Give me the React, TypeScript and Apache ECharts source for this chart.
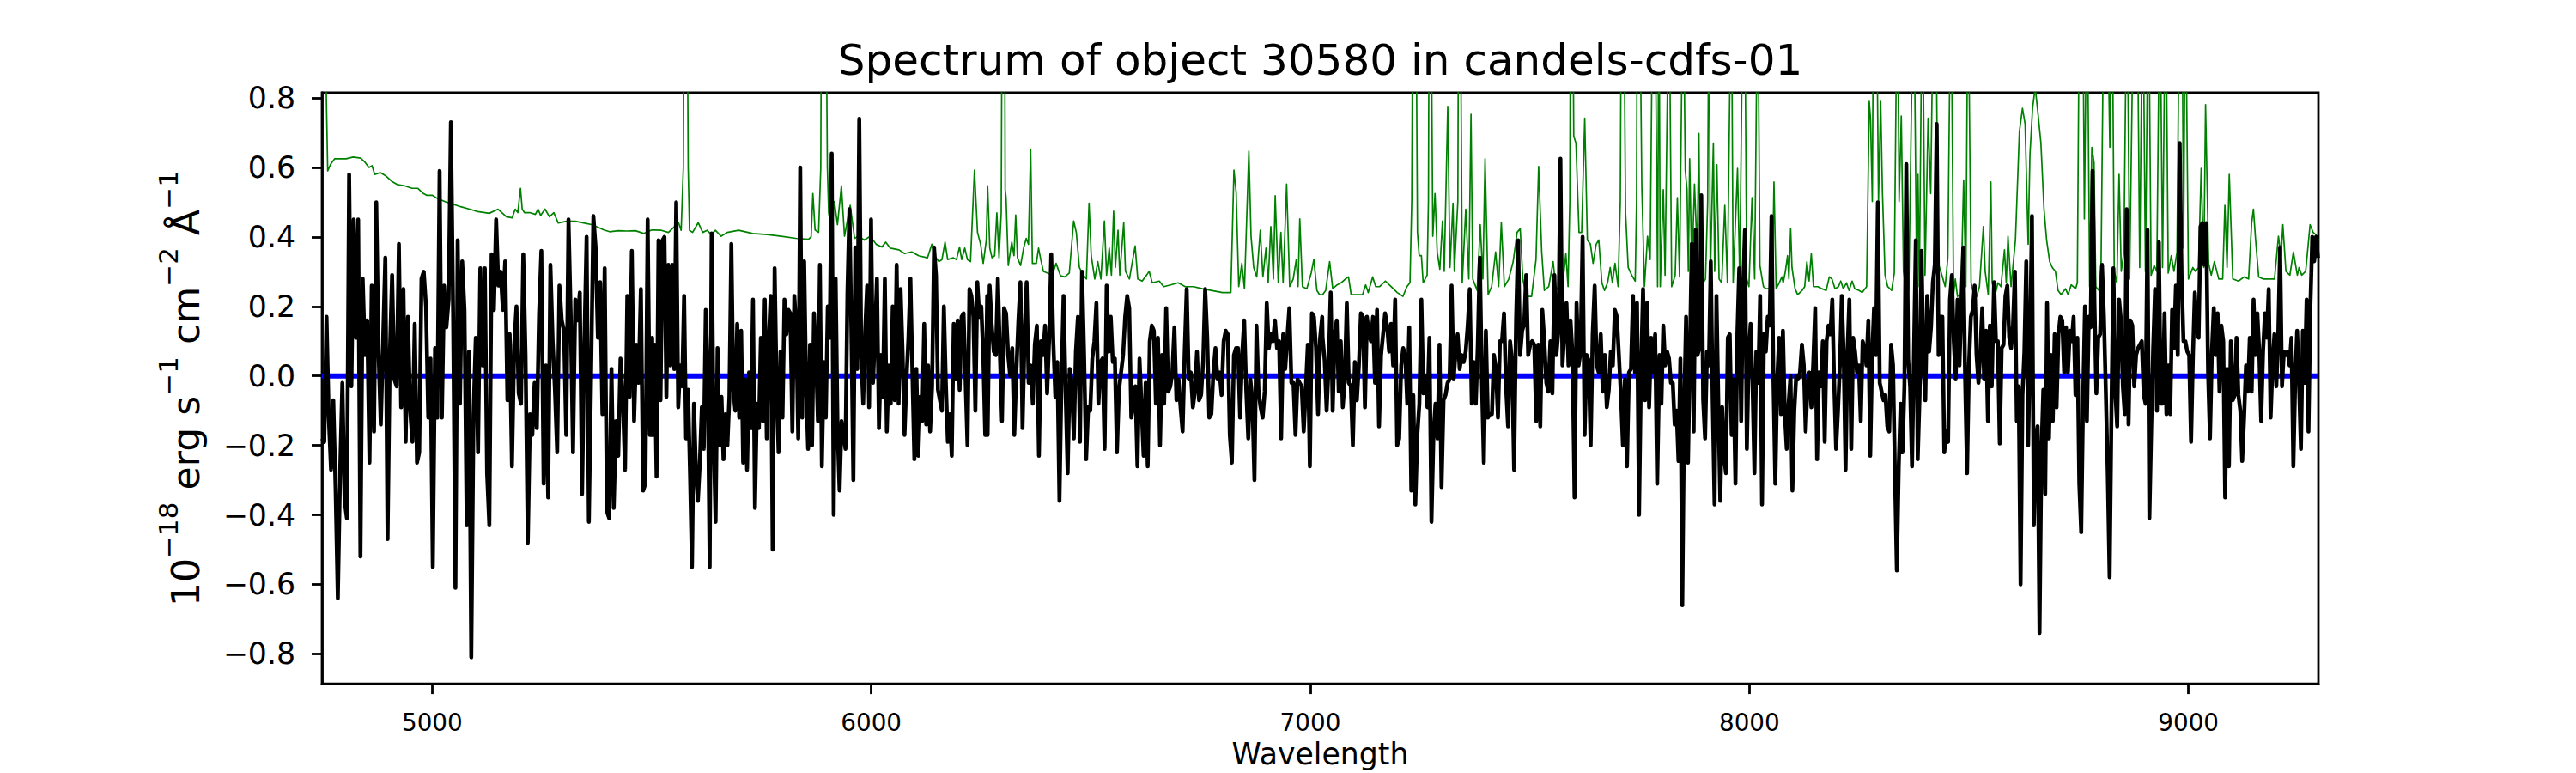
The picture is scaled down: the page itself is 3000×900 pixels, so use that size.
import React, { useEffect, useRef } from "react";
import * as echarts from "echarts";

const TITLE = "Spectrum of object 30580 in candels-cdfs-01";
const X_LABEL = "Wavelength";
const X_MIN = 4749;
const X_MAX = 9296;
const Y_MIN = -0.886;
const Y_MAX = 0.815;
const X_TICKS = [5000, 6000, 7000, 8000, 9000];
const Y_TICKS = [-0.8, -0.6, -0.4, -0.2, 0, 0.2, 0.4, 0.6, 0.8];
const ZERO_LEVEL = 0;

// wavelength span covered by each block of flux samples
const SEGMENT_RANGES = [
  [4749, 5501],
  [5502, 6264],
  [6265, 7027],
  [7028, 7790],
  [7791, 8552],
  [8553, 9295],
];

const FLUX_1 = [-0.18,-0.19,0.17,-0.12,-0.27,-0.07,-0.32,-0.64,-0.28,-0.02,-0.36,-0.41,0.58,-0.03,0.45,0.11,0.45,-0.52,0.28,0.06,0.16,-0.25,0.26,-0.16,0.50,0.07,-0.14,0.10,0.34,-0.47,0.06,0.29,-0.01,-0.03,0.38,-0.09,0.25,-0.19,0.17,-0.10,-0.19,0.15,-0.25,-0.22,0.28,0.30,0.20,-0.12,0.05,-0.55,0.08,-0.12,0.59,-0.12,0.26,0.14,0.22,0.73,0.17,-0.61,0.39,-0.08,0.33,0.19,-0.43,0.07,-0.81,-0.11,0.11,-0.22,0.31,0.03,0.31,-0.28,-0.43,0.35,0.19,0.45,0.26,0.30,0.19,0.33,-0.07,0.12,-0.26,0.09,0.20,-0.05,-0.08,0.35,0.06,-0.48,-0.11,-0.17,-0.02,-0.15,0.18,0.36,-0.31,0.03,-0.35,0.32,0.10,-0.04,-0.22,0.26,0.16,0.13,-0.17,0.45,0.17,-0.22,0.22,0.16,0.24,-0.34,0.09,0.40,-0.42,0.01,0.46,0.37,0.11,0.27,-0.11,0.31,-0.39,-0.41,0.02,-0.38,-0.13,-0.23,0.05,-0.06,-0.27,0.23,-0.06,0.36,-0.13,0.09,-0.02,0.25,-0.33,-0.31,0.45,-0.17,0.11];
const FLUX_2 = [-0.17,0.09,-0.29,0.39,-0.07,0.39,0.40,-0.06,0.32,0.03,0.32,0.02,0.50,-0.09,0.03,-0.03,0.23,-0.18,-0.04,-0.28,-0.55,-0.08,-0.27,-0.36,-0.25,-0.09,-0.21,0.19,0.00,-0.55,0.41,-0.17,-0.42,0.08,-0.20,-0.06,-0.24,-0.11,-0.20,-0.06,0.38,-0.04,-0.10,0.15,-0.12,0.13,-0.25,-0.01,-0.27,0.01,-0.15,0.22,-0.38,-0.08,-0.15,0.11,-0.13,0.22,-0.18,0.10,0.23,-0.50,0.31,-0.03,-0.22,0.07,-0.12,0.22,0.12,0.19,0.18,-0.16,0.23,0.14,-0.18,0.60,-0.12,0.33,-0.03,-0.21,0.09,-0.20,0.18,0.06,-0.13,0.32,-0.26,0.04,-0.12,0.20,0.11,0.64,-0.40,0.28,-0.16,-0.33,-0.13,-0.17,-0.21,0.24,0.48,0.13,-0.30,0.37,0.02,0.74,0.06,-0.08,0.13,0.26,-0.09,0.45,-0.02,0.12,0.28,-0.15,0.06,-0.06,0.28,-0.16,0.03,-0.08,0.20,-0.07,0.32,-0.08,0.25,0.07,-0.17,-0.01,0.11,0.28,0.01,-0.24,0.02,-0.23,-0.06,-0.13,0.15,-0.14,0.03,-0.16,-0.03,0.37,0.29,-0.04,-0.07,-0.10,0.20,-0.02,-0.19,-0.11,-0.23,0.15,-0.01,0.16,-0.04,0.17,0.18,-0.01,-0.20,0.25,0.23,0.17,-0.10,0.27,0.17,0.20,0.06,-0.17,0.23];
const FLUX_3 = [-0.17,0.26,0.145,0.07,0.06,0.28,0.06,-0.13,0.195,0.18,0.06,0.00,0.08,-0.17,0.01,0.16,0.27,-0.15,0.11,0.27,-0.02,0.03,-0.08,0.09,0.145,-0.23,0.10,0.06,0.145,-0.05,0.11,0.35,0.10,-0.06,0.04,-0.36,-0.01,0.23,-0.045,-0.28,0.02,-0.02,-0.18,0.07,0.17,-0.19,0.30,0.06,-0.24,-0.09,-0.10,0.05,0.10,0.21,-0.08,0.04,0.05,-0.21,0.26,0.07,0.17,0.04,0.05,-0.22,-0.04,0.01,0.06,0.17,0.23,0.195,-0.12,-0.08,-0.03,-0.26,0.05,-0.09,-0.23,-0.02,-0.26,0.10,0.145,0.13,-0.08,0.11,-0.20,0.06,-0.08,0.195,-0.045,-0.03,0.01,0.14,-0.07,-0.01,-0.09,-0.16,0.07,0.25,-0.01,0.01,-0.09,-0.045,0.07,-0.07,-0.055,0.04,0.25,0.11,-0.12,-0.11,0.01,0.08,-0.01,0.01,-0.055,0.10,0.13,0.12,-0.17,-0.25,0.06,0.08,0.08,-0.12,0.06,0.16,-0.04,-0.18,-0.01,-0.07,-0.30,0.145,-0.045,-0.09,-0.12,-0.045,0.21,0.08,0.12,0.10,0.16,0.08,0.10,-0.18,0.12,0.02,0.11,0.195,-0.02,-0.02,-0.17,-0.01,-0.02,-0.03,-0.16,-0.04,0.09,-0.26,0.18,0.17,0.08,-0.11,0.11,0.17];
const FLUX_4 = [0.11,0.045,-0.10,0.03,0.24,-0.10,0.12,0.16,-0.045,0.10,-0.09,-0.01,0.21,-0.02,-0.03,-0.20,0.04,-0.07,0.03,0.18,0.17,-0.09,0.17,0.12,0.10,0.17,-0.02,0.19,-0.145,0.06,0.12,0.18,0.145,0.07,0.15,0.03,0.22,-0.20,-0.18,0.03,0.08,0.06,-0.08,0.14,-0.33,-0.055,-0.37,-0.17,-0.08,0.22,-0.05,0.00,-0.09,0.11,-0.42,-0.17,-0.08,-0.18,0.09,-0.32,-0.07,-0.055,-0.02,-0.01,0.26,-0.01,0.07,0.12,0.02,0.06,0.04,0.07,0.145,0.25,-0.08,0.04,-0.08,0.09,0.34,-0.01,-0.25,0.13,-0.12,-0.11,-0.11,0.06,0.02,-0.12,0.10,0.10,0.18,-0.03,-0.145,0.10,0.045,-0.27,0.16,0.39,0.06,0.13,0.15,0.29,0.06,0.09,0.10,0.09,-0.13,0.09,-0.145,0.19,0.10,-0.02,-0.045,0.10,-0.05,0.29,0.06,0.13,0.625,0.03,0.13,0.21,0.03,0.16,0.06,-0.35,0.21,0.03,0.07,0.40,-0.17,0.06,0.045,-0.20,0.12,0.26,0.03,0.01,0.12,-0.045,0.06,-0.09,-0.04,0.07,0.03,0.19,0.17,0.06,-0.055,-0.20,-0.01,-0.26,0.01,0.02,0.23,0.01,0.21,-0.40,0.02,0.25,-0.07,0.21,-0.09,0.11,0.01,0.12,-0.31];
const FLUX_5 = [-0.31,0.06,-0.08,0.145,0.03,0.07,0.05,-0.02,-0.02,-0.14,-0.10,-0.245,0.05,-0.66,-0.09,0.17,-0.25,0.06,0.38,-0.16,0.42,0.06,0.08,0.52,-0.07,-0.18,0.07,0.03,0.33,-0.07,-0.37,0.23,-0.08,-0.36,-0.09,-0.23,-0.28,0.11,0.12,-0.17,-0.01,-0.31,0.12,0.31,-0.13,0.25,0.42,-0.21,0.06,0.15,-0.02,-0.28,0.07,-0.02,0.23,-0.37,0.12,0.07,0.17,0.145,0.46,-0.01,-0.31,-0.01,0.11,-0.11,0.13,-0.11,-0.21,-0.08,0.00,-0.33,-0.10,0.00,-0.01,0.01,0.09,0.03,-0.16,-0.02,0.01,-0.09,0.04,0.195,-0.24,0.01,-0.03,0.10,-0.19,0.10,0.145,0.12,0.22,-0.02,-0.21,-0.10,0.03,0.23,0.06,-0.27,0.07,0.22,-0.21,0.11,0.07,0.01,0.03,-0.13,0.10,0.08,0.03,0.16,-0.23,0.06,0.195,0.06,0.50,-0.02,-0.045,-0.07,-0.055,-0.145,-0.16,0.09,0.03,-0.28,-0.56,-0.26,-0.08,-0.22,-0.03,0.61,0.045,-0.03,-0.26,0.06,0.39,-0.24,-0.055,0.36,0.03,-0.07,0.23,0.07,0.14,0.27,0.32,0.725,0.06,0.17,0.17,-0.22,-0.16,-0.19,0.22,0.29,0.10,-0.01,0.22,0.03,0.21,0.37,-0.01,-0.28,0.03,0.17,0.19,0.26,0.06,-0.02,0.07,0.195,-0.01,0.13,-0.13,0.145,-0.03];
const FLUX_6 = [-0.03,0.27,0.10,0.10,-0.195,0.08,0.09,0.23,0.26,0.11,0.08,0.145,0.30,-0.13,-0.03,-0.60,-0.055,0.07,0.33,-0.20,0.10,0.46,-0.43,-0.18,-0.145,-0.74,-0.22,-0.04,-0.34,0.21,-0.18,0.06,-0.13,0.12,-0.09,0.12,0.17,0.16,0.01,0.14,0.01,0.13,0.10,0.17,-0.055,0.11,-0.31,-0.45,-0.07,0.20,-0.13,0.17,0.14,0.59,0.21,-0.05,0.11,0.12,0.32,0.17,-0.045,-0.28,-0.58,-0.09,0.31,-0.045,-0.145,0.22,0.16,-0.03,-0.11,0.48,-0.14,0.16,0.145,-0.03,0.06,0.08,0.09,0.10,-0.055,-0.08,0.42,-0.41,-0.145,0.08,0.25,-0.10,0.385,-0.08,-0.08,0.18,-0.11,0.03,-0.11,0.19,0.08,0.26,0.06,0.67,0.29,0.10,0.10,0.07,0.06,-0.19,0.06,0.24,0.13,0.11,0.43,0.44,0.32,0.44,0.01,-0.18,0.07,0.195,0.06,0.18,-0.045,0.145,0.10,-0.35,0.02,-0.26,0.10,-0.07,-0.055,0.11,-0.055,-0.10,-0.245,-0.12,0.03,-0.045,0.11,-0.045,0.22,0.06,0.18,0.07,-0.13,0.07,0.18,0.11,0.25,-0.12,0.03,0.12,-0.03,0.11,0.37,-0.03,0.07,0.06,0.07,0.03,0.11,-0.26,-0.01,0.13,-0.02,-0.21,0.13,-0.02,0.22,-0.16,0.20,0.40,0.33,0.40,0.34];
const FLUX_SEGMENTS = [FLUX_1, FLUX_2, FLUX_3, FLUX_4, FLUX_5, FLUX_6];

// green spectrum: [wavelength, value]
const CONTAM = [
[4749,1.5],[4756,1.0],[4762,0.59],[4769,0.61],[4778,0.625],[4804,0.625],[4820,0.63],[4837,0.627],[4847,0.615],[4856,0.60],[4863,0.605],[4869,0.58],[4882,0.585],[4895,0.575],[4908,0.56],[4922,0.55],[4935,0.548],[4954,0.54],[4967,0.54],[4980,0.525],[4987,0.52],[5000,0.52],[5013,0.51],[5033,0.50],[5046,0.495],[5065,0.487],[5085,0.48],[5104,0.473],[5130,0.468],[5150,0.48],[5169,0.458],[5182,0.455],[5189,0.48],[5195,0.47],[5201,0.54],[5205,0.48],[5210,0.47],[5222,0.47],[5235,0.465],[5241,0.48],[5247,0.462],[5257,0.48],[5267,0.458],[5277,0.47],[5287,0.44],[5306,0.445],[5326,0.445],[5345,0.44],[5365,0.435],[5391,0.42],[5404,0.415],[5424,0.418],[5443,0.417],[5463,0.418],[5482,0.41],[5500,0.42],
[5522,0.419],[5538,0.413],[5561,0.441],[5567,0.419],[5572,0.6],[5574,1.3],[5580,1.3],[5583,0.6],[5586,0.419],[5593,0.413],[5606,0.441],[5616,0.413],[5626,0.419],[5636,0.407],[5645,0.419],[5658,0.402],[5672,0.413],[5698,0.419],[5730,0.41],[5763,0.407],[5795,0.402],[5828,0.396],[5857,0.393],[5863,0.40],[5867,0.525],[5872,0.42],[5880,0.413],[5885,0.6],[5887,1.3],[5896,1.3],[5900,0.6],[5903,0.469],[5910,0.413],[5916,0.502],[5923,0.435],[5932,0.547],[5939,0.402],[5952,0.491],[5962,0.396],[5971,0.402],[5984,0.391],[5998,0.402],[6011,0.379],[6024,0.371],[6033,0.385],[6043,0.368],[6063,0.363],[6076,0.352],[6092,0.357],[6108,0.346],[6128,0.34],[6138,0.379],[6144,0.346],[6154,0.329],[6161,0.335],[6168,0.385],[6174,0.335],[6187,0.34],[6194,0.335],[6201,0.371],[6206,0.335],[6213,0.368],[6219,0.335],[6226,0.329],[6235,0.592],[6242,0.413],[6249,0.379],[6255,0.324],[6262,0.391],
[6265,0.547],[6270,0.368],[6275,0.34],[6281,0.346],[6286,0.469],[6291,0.34],[6296,0.469],[6299,1.5],[6303,1.5],[6305,0.536],[6307,0.513],[6312,0.318],[6320,0.385],[6325,0.346],[6329,0.463],[6333,0.34],[6340,0.318],[6347,0.368],[6353,0.396],[6358,0.379],[6363,0.653],[6367,0.324],[6376,0.324],[6381,0.368],[6386,0.335],[6392,0.301],[6402,0.296],[6412,0.29],[6421,0.324],[6431,0.288],[6441,0.285],[6451,0.296],[6461,0.446],[6467,0.413],[6474,0.312],[6483,0.29],[6490,0.279],[6496,0.497],[6501,0.346],[6509,0.279],[6516,0.329],[6523,0.279],[6531,0.446],[6536,0.29],[6542,0.368],[6547,0.29],[6552,0.474],[6556,0.312],[6562,0.419],[6566,0.29],[6575,0.441],[6579,0.301],[6588,0.279],[6594,0.324],[6601,0.374],[6607,0.279],[6617,0.273],[6627,0.29],[6633,0.301],[6640,0.268],[6656,0.273],[6666,0.257],[6682,0.262],[6699,0.268],[6715,0.257],[6734,0.257],[6754,0.251],[6774,0.246],[6800,0.24],[6819,0.24],[6826,0.592],[6831,0.53],[6837,0.257],[6844,0.324],[6850,0.251],[6860,0.647],[6865,0.402],[6871,0.312],[6878,0.285],[6886,0.419],[6892,0.285],[6899,0.368],[6904,0.268],[6910,0.43],[6916,0.279],[6920,0.519],[6927,0.268],[6933,0.413],[6938,0.268],[6946,0.552],[6953,0.257],[6961,0.279],[6968,0.335],[6972,0.257],[6976,0.452],[6982,0.257],[6992,0.251],[7002,0.296],[7008,0.335],[7015,0.246],[7021,0.234],
[7028,0.234],[7035,0.246],[7044,0.329],[7051,0.251],[7061,0.262],[7070,0.268],[7080,0.279],[7087,0.285],[7093,0.234],[7106,0.234],[7119,0.234],[7126,0.262],[7132,0.24],[7142,0.285],[7149,0.257],[7158,0.257],[7171,0.273],[7184,0.257],[7198,0.24],[7211,0.229],[7220,0.257],[7227,0.268],[7231,0.502],[7234,1.3],[7240,1.3],[7244,0.413],[7248,0.346],[7253,0.346],[7257,0.268],[7266,0.29],[7269,0.502],[7271,1.3],[7274,1.3],[7279,0.402],[7284,0.525],[7289,0.357],[7295,0.307],[7301,0.446],[7305,0.301],[7313,0.776],[7318,0.312],[7325,0.497],[7328,0.301],[7336,0.502],[7338,1.3],[7341,1.3],[7346,0.268],[7354,0.48],[7361,0.279],[7366,0.753],[7370,0.279],[7380,0.246],[7387,0.435],[7393,0.279],[7398,0.625],[7405,0.234],[7413,0.257],[7422,0.357],[7429,0.257],[7435,0.441],[7442,0.257],[7452,0.279],[7462,0.329],[7471,0.413],[7478,0.424],[7484,0.279],[7492,0.229],[7504,0.229],[7514,0.335],[7520,0.603],[7527,0.357],[7533,0.246],[7543,0.257],[7553,0.329],[7559,0.257],[7569,0.24],[7576,0.279],[7582,0.352],[7587,0.257],[7591,0.502],[7593,1.3],[7597,1.3],[7600,0.69],[7605,0.67],[7612,0.413],[7618,0.413],[7625,0.742],[7631,0.391],[7638,0.379],[7644,0.324],[7651,0.379],[7657,0.391],[7664,0.268],[7670,0.246],[7677,0.268],[7683,0.312],[7688,0.268],[7694,0.324],[7701,0.257],[7706,0.502],[7709,1.3],[7713,1.3],[7718,0.469],[7724,0.312],[7732,0.29],[7740,0.273],[7743,0.502],[7745,1.3],[7749,1.3],[7755,0.547],[7761,0.257],[7768,0.402],[7774,0.335],[7781,1.3],[7784,1.3],
[7791,0.257],[7794,1.2],[7797,0.257],[7804,0.536],[7808,0.29],[7817,1.2],[7823,0.257],[7831,0.29],[7836,0.513],[7841,0.285],[7849,1.2],[7854,0.592],[7858,0.536],[7861,0.301],[7864,0.625],[7869,0.301],[7875,0.552],[7881,0.357],[7885,0.698],[7888,0.301],[7895,0.268],[7900,0.279],[7905,0.5],[7908,1.2],[7911,0.279],[7918,0.67],[7921,0.301],[7926,0.608],[7931,0.279],[7937,0.268],[7944,0.491],[7950,0.268],[7959,1.2],[7963,0.268],[7973,0.597],[7978,0.279],[7986,1.2],[7989,1.2],[7994,0.279],[7999,0.257],[8006,0.513],[8012,0.279],[8019,1.2],[8024,0.318],[8032,0.257],[8038,0.251],[8048,0.251],[8053,0.312],[8056,0.558],[8061,0.251],[8068,0.268],[8074,0.285],[8077,0.268],[8082,0.301],[8087,0.346],[8090,0.279],[8094,0.424],[8097,0.312],[8104,0.251],[8110,0.234],[8120,0.246],[8126,0.257],[8131,0.329],[8136,0.273],[8141,0.352],[8146,0.257],[8156,0.257],[8165,0.251],[8175,0.246],[8182,0.285],[8188,0.279],[8195,0.251],[8203,0.257],[8208,0.273],[8214,0.251],[8221,0.268],[8227,0.246],[8234,0.273],[8240,0.251],[8250,0.246],[8257,0.24],[8267,0.257],[8273,0.79],[8276,0.737],[8280,0.502],[8283,1.2],[8289,1.2],[8294,0.502],[8299,0.79],[8303,0.53],[8309,0.29],[8315,0.257],[8324,0.246],[8330,0.296],[8337,1.2],[8341,0.502],[8346,0.748],[8351,0.301],[8357,0.246],[8363,0.246],[8368,0.675],[8374,1.2],[8381,0.279],[8384,0.58],[8387,0.257],[8394,1.2],[8400,0.29],[8407,0.742],[8413,0.525],[8420,1.2],[8424,1.2],[8430,0.324],[8436,0.301],[8446,0.257],[8452,0.34],[8459,1.2],[8465,0.234],[8469,0.279],[8474,0.229],[8482,0.234],[8488,0.564],[8493,0.257],[8498,1.2],[8505,0.268],[8511,0.234],[8518,0.229],[8524,0.257],[8533,0.43],[8537,0.301],[8544,0.234],[8550,0.558],
[8553,0.268],[8560,0.234],[8566,0.268],[8573,0.257],[8581,0.363],[8585,0.268],[8589,0.402],[8596,0.257],[8606,0.391],[8615,0.703],[8622,0.77],[8628,0.725],[8635,0.379],[8639,0.636],[8645,0.77],[8651,0.83],[8658,0.748],[8664,0.67],[8671,0.48],[8677,0.391],[8684,0.329],[8690,0.312],[8697,0.301],[8703,0.246],[8710,0.234],[8720,0.251],[8726,0.234],[8733,0.262],[8743,0.251],[8747,0.268],[8752,1.2],[8759,1.2],[8763,0.452],[8769,1.2],[8775,0.257],[8780,0.658],[8785,0.614],[8789,0.257],[8796,0.246],[8801,0.318],[8808,1.2],[8814,1.2],[8821,0.658],[8826,1.2],[8831,0.301],[8837,0.268],[8842,0.58],[8847,0.301],[8853,0.357],[8860,1.2],[8866,0.279],[8876,1.2],[8883,1.2],[8889,0.312],[8896,1.2],[8902,0.301],[8909,1.2],[8915,0.29],[8922,0.318],[8928,0.301],[8935,1.2],[8941,0.312],[8948,1.2],[8954,0.296],[8961,0.346],[8967,0.301],[8974,0.357],[8980,1.2],[8985,1.2],[8989,0.368],[8993,1.2],[9000,0.279],[9010,0.312],[9016,0.301],[9023,0.312],[9029,0.597],[9035,0.312],[9039,0.781],[9046,0.324],[9052,0.29],[9059,0.329],[9069,0.279],[9078,0.279],[9083,0.491],[9088,0.312],[9093,0.58],[9101,0.279],[9114,0.273],[9127,0.285],[9137,0.279],[9144,0.441],[9148,0.48],[9153,0.391],[9160,0.285],[9170,0.279],[9183,0.279],[9196,0.279],[9205,0.402],[9211,0.346],[9215,0.435],[9222,0.301],[9231,0.29],[9239,0.357],[9248,0.29],[9252,0.312],[9258,0.29],[9267,0.301],[9277,0.435],[9284,0.413],[9290,0.407],[9296,0.391]
];

const FONT = '"DejaVu Sans", sans-serif';

function buildFlux(): number[][] {
  const out: number[][] = [];
  FLUX_SEGMENTS.forEach((vals, k) => {
    const [a, b] = SEGMENT_RANGES[k];
    const n = vals.length;
    vals.forEach((v, i) => out.push([a + ((b - a) * i) / (n - 1), v]));
  });
  return out;
}

function fmtY(v: number): string {
  const r = Math.round(v * 10) / 10;
  const s = Math.abs(r).toFixed(1);
  return r < 0 ? "\u2212" + s : s;
}

export default function App() {
  const ref = useRef<HTMLDivElement>(null);
  useEffect(() => {
    document.body.style.margin = "0";
    if (!ref.current) return;
    const chart = echarts.init(ref.current, undefined, { renderer: "svg" });
    const tickStyle = { length: 12, lineStyle: { color: "#000", width: 2.8 } };
    chart.setOption({
      animation: false,
      backgroundColor: "#fff",
      title: {
        text: TITLE,
        left: 1537.5,
        top: 44.7,
        textAlign: "center",
        padding: 0,
        textStyle: { fontFamily: FONT, fontSize: 50, fontWeight: "normal", color: "#000" },
      },
      grid: {
        left: 375,
        top: 108,
        width: 2325,
        height: 693,
        show: true,
        borderColor: "#000",
        borderWidth: 2.8,
        backgroundColor: "transparent",
      },
      xAxis: {
        type: "value",
        min: X_MIN,
        max: X_MAX,
        name: X_LABEL,
        nameLocation: "middle",
        nameGap: 60,
        nameTextStyle: { fontFamily: FONT, fontSize: 34.7, color: "#000" },
        axisLine: { show: true, onZero: false, lineStyle: { color: "#000", width: 2.8 } },
        axisTick: { show: true, inside: false, customValues: X_TICKS, ...tickStyle },
        axisLabel: {
          customValues: X_TICKS,
          margin: 31,
          fontFamily: FONT,
          fontSize: 27.8,
          color: "#000",
          formatter: (v: number) => String(v),
        },
        splitLine: { show: false },
      },
      yAxis: {
        type: "value",
        min: Y_MIN,
        max: Y_MAX,
        name: "{n|10}{s|\u221218}{n| erg s}{s|\u22121}{n| cm}{s|\u22122}{n| \u00c5}{s|\u22121}",
        nameLocation: "middle",
        nameRotate: 90,
        nameGap: 137,
        nameTextStyle: {
          fontFamily: FONT,
          color: "#000",
          rich: {
            n: { fontFamily: FONT, fontSize: 44.2, lineHeight: 58, verticalAlign: "bottom", color: "#000" },
            s: { fontFamily: FONT, fontSize: 31, lineHeight: 31, verticalAlign: "top", color: "#000" },
          },
        },
        axisLine: { show: true, onZero: false, lineStyle: { color: "#000", width: 2.8 } },
        axisTick: { show: true, inside: false, customValues: Y_TICKS, ...tickStyle },
        axisLabel: {
          customValues: Y_TICKS,
          margin: 31,
          fontFamily: FONT,
          fontSize: 34.7,
          color: "#000",
          formatter: (v: number) => fmtY(v),
        },
        splitLine: { show: false },
      },
      series: [
        {
          type: "line",
          name: "contamination",
          data: CONTAM,
          symbol: "none",
          silent: true,
          clip: true,
          z: 1,
          lineStyle: { color: "#008000", width: 1.7, join: "round" },
        },
        {
          type: "line",
          name: "zero",
          data: [
            [X_MIN, ZERO_LEVEL],
            [X_MAX, ZERO_LEVEL],
          ],
          symbol: "none",
          silent: true,
          clip: true,
          z: 2,
          lineStyle: { color: "#0000ff", width: 6 },
        },
        {
          type: "line",
          name: "flux",
          data: buildFlux(),
          symbol: "none",
          silent: true,
          clip: true,
          z: 3,
          lineStyle: { color: "#000000", width: 4.6, join: "round" },
        },
      ],
    });
    return () => chart.dispose();
  }, []);
  return <div ref={ref} style={{ width: 3000, height: 900 }} />;
}
